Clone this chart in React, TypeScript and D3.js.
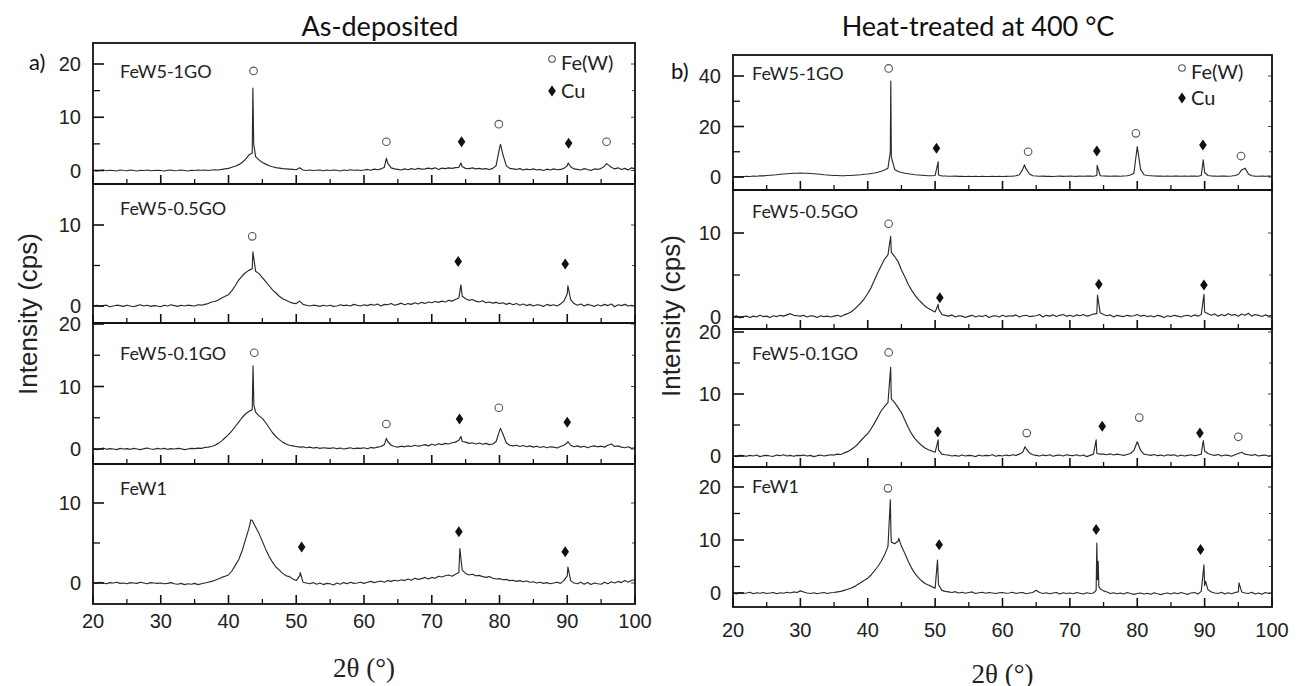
import React from 'react';
import * as d3 from 'd3';

type Pt = [number, number];

// 2θ sampling grid of the digitised patterns (20° … 100°, 0.5° steps)
const twoTheta: number[] = d3.range(0, 161).map((i) => 20 + i * 0.5);

const xMajorTicks = [20, 30, 40, 50, 60, 70, 80, 90, 100];
const xMinorTicks = [25, 35, 45, 55, 65, 75, 85, 95];

// ---------- As-deposited ----------
const ad1GO = [
  0.1, -0.1, 0.0, 0.1, -0.05, 0.05, 0.0, -0.1, 0.1, 0.0,
  -0.05, 0.1, 0.0, -0.1, 0.05, 0.0, 0.1, -0.05, 0.0, 0.05,
  0.0, -0.1, 0.05, 0.1, -0.05, 0.0, 0.1, 0.0, -0.1, 0.05,
  0.0, 0.1, 0.05, 0.1, 0.0, 0.1, 0.15, 0.1, 0.2, 0.3,
  0.4, 0.6, 0.8, 1.1, 1.5, 2.1, 2.9, 3.3, 2.6, 2.0,
  1.5, 1.2, 0.9, 0.7, 0.55, 0.45, 0.35, 0.3, 0.25, 0.2,
  0.15, 0.5, 0.1, 0.0, 0.1, 0.0, 0.05, 0.1, -0.05, 0.1,
  0.0, 0.1, 0.05, -0.1, 0.1, 0.0, 0.15, 0.05, 0.1, 0.0,
  0.1, 0.2, 0.05, 0.25, 0.15, 0.3, 0.6, 1.4, 0.5, 0.3,
  0.2, 0.1, 0.3, 0.15, 0.35, 0.2, 0.4, 0.25, 0.3, 0.45,
  0.3, 0.5, 0.2, 0.45, 0.35, 0.5, 0.4, 0.55, 0.6, 0.7,
  0.4, 0.35, 0.5, 0.3, 0.4, 0.25, 0.35, 0.2, 0.4, 0.9,
  4.2, 3.0, 0.9, 0.4, 0.3, 0.2, 0.35, 0.1, 0.25, 0.15,
  0.3, 0.1, 0.2, 0.0, 0.25, 0.1, 0.3, 0.15, 0.2, 0.4,
  0.9, 0.7, 0.3, 0.2, 0.1, 0.35, 0.2, 0.0, 0.3, 0.2,
  0.4, 0.8, 1.1, 0.6, 0.3, 0.5, 0.2, 0.4, 0.1, 0.5,
  0.3,
];
const ad1GOPeaks: Pt[] = [[43.6, 15.5], [43.72, 5.0], [63.3, 2.3], [74.3, 1.4], [80.15, 4.9], [90.15, 1.4], [95.8, 1.3]];
const ad1GOFe: Pt[] = [[43.7, 18.7], [63.3, 5.4], [79.9, 8.7], [95.8, 5.4]];
const ad1GOCu: Pt[] = [[74.4, 5.4], [90.2, 5.1]];

const ad05GO = [
  0.0, 0.1, -0.05, 0.05, 0.1, -0.1, 0.0, 0.1, 0.05, -0.05,
  0.1, 0.0, -0.1, 0.05, 0.15, 0.0, 0.1, -0.05, 0.05, 0.0,
  -0.1, 0.1, 0.0, 0.15, 0.05, -0.05, 0.1, 0.0, 0.1, 0.05,
  0.0, 0.15, 0.1, 0.2, 0.3, 0.5, 0.55, 0.75, 1.0, 1.2,
  1.4, 1.9, 2.5, 3.2, 3.7, 4.1, 4.4, 4.6, 4.3, 4.0,
  3.5, 3.0, 2.5, 2.0, 1.6, 1.2, 0.9, 0.7, 0.5, 0.35,
  0.3, 0.6, 0.2, 0.1, 0.0, 0.1, 0.05, -0.05, 0.1, 0.0,
  0.1, -0.05, 0.0, 0.15, 0.05, 0.1, 0.0, 0.2, 0.1, 0.0,
  0.15, 0.05, 0.2, 0.1, 0.25, 0.0, 0.2, 0.15, 0.3, 0.1,
  0.2, 0.35, 0.15, 0.3, 0.2, 0.4, 0.25, 0.45, 0.3, 0.5,
  0.4, 0.55, 0.45, 0.6, 0.5, 0.7, 0.6, 0.8, 1.0, 1.2,
  0.9, 0.7, 0.8, 0.6, 0.5, 0.65, 0.4, 0.5, 0.35, 0.45,
  0.3, 0.4, 0.2, 0.35, 0.15, 0.3, 0.1, 0.25, 0.05, 0.2,
  0.0, 0.15, 0.1, -0.05, 0.2, 0.05, 0.15, 0.0, 0.25, 0.6,
  1.5, 0.8, 0.3, 0.1, 0.25, 0.0, 0.2, 0.1, -0.05, 0.15,
  0.0, 0.2, 0.05, 0.25, -0.1, 0.15, 0.05, 0.2, 0.0, 0.1,
  0.0,
];
const ad05GOPeaks: Pt[] = [[43.6, 6.7], [74.3, 2.6], [90.1, 2.5]];
const ad05GOFe: Pt[] = [[43.5, 8.6]];
const ad05GOCu: Pt[] = [[73.9, 5.5], [89.7, 5.2]];

const ad01GO = [
  0.1, -0.1, 0.0, 0.15, -0.05, 0.05, 0.0, -0.1, 0.1, 0.0,
  0.05, -0.05, 0.1, 0.0, -0.1, 0.05, 0.15, 0.0, -0.05, 0.1,
  0.0, 0.1, -0.05, 0.05, 0.0, 0.1, 0.05, -0.1, 0.0, 0.1,
  0.05, 0.15, 0.1, 0.25, 0.3, 0.4, 0.6, 0.9, 1.3, 1.8,
  2.3, 2.9, 3.6, 4.3, 5.0, 5.6, 6.0, 6.3, 5.9, 5.3,
  4.9, 4.2, 3.4, 2.6, 2.0, 1.5, 1.1, 0.8, 0.6, 0.5,
  0.4, 0.3, 0.35, 0.2, 0.3, 0.15, 0.25, 0.1, 0.2, 0.15,
  0.1, 0.2, 0.05, 0.15, 0.0, 0.1, 0.2, 0.05, 0.15, 0.1,
  0.2, 0.05, 0.25, 0.15, 0.3, 0.4, 0.7, 1.2, 0.6, 0.4,
  0.3, 0.45, 0.35, 0.5, 0.4, 0.6, 0.45, 0.55, 0.7, 0.5,
  0.75, 0.6, 0.85, 0.7, 0.9, 0.8, 1.0, 1.1, 1.4, 1.2,
  1.1, 0.9, 1.0, 0.8, 0.95, 0.75, 0.9, 0.7, 0.8, 1.2,
  2.9, 2.4, 1.0, 0.6, 0.5, 0.6, 0.4, 0.55, 0.35, 0.5,
  0.3, 0.45, 0.25, 0.4, 0.2, 0.35, 0.3, 0.15, 0.4, 0.6,
  1.0, 0.6, 0.35, 0.5, 0.3, 0.45, 0.2, 0.4, 0.5, 0.35,
  0.45, 0.3, 0.6, 0.8, 0.4, 0.5, 0.3, 0.2, 0.35, 0.1,
  0.2,
];
const ad01GOPeaks: Pt[] = [[43.62, 13.3], [43.75, 7.0], [63.3, 1.7], [74.3, 2.0], [80.15, 3.3], [90.1, 1.2]];
const ad01GOFe: Pt[] = [[43.8, 15.4], [63.3, 4.0], [79.9, 6.6]];
const ad01GOCu: Pt[] = [[74.1, 4.8], [90.0, 4.3]];

const adFeW1 = [
  0.05, -0.05, 0.1, 0.0, -0.1, 0.05, 0.0, 0.1, -0.05, 0.0,
  -0.1, 0.05, 0.0, -0.05, 0.1, 0.0, -0.1, 0.05, 0.0, -0.05,
  0.0, -0.1, -0.05, 0.05, -0.1, -0.15, -0.05, -0.2, -0.1, -0.15,
  -0.05, -0.2, -0.1, 0.0, 0.1, 0.2, 0.35, 0.5, 0.7, 0.85,
  1.0, 1.5, 2.2, 2.9, 4.0, 5.4, 6.8, 7.8, 7.0, 6.2,
  5.2, 4.2, 3.3, 2.6, 2.0, 1.6, 1.2, 0.9, 0.8, 0.5,
  0.3, 0.9, 0.1, 0.0, -0.1, 0.05, -0.15, 0.0, -0.2, -0.05,
  -0.1, -0.25, 0.0, -0.15, 0.05, -0.1, 0.1, -0.05, 0.0, 0.1,
  -0.05, 0.1, 0.2, 0.05, 0.15, 0.25, 0.1, 0.3, 0.2, 0.35,
  0.25, 0.4, 0.3, 0.5, 0.35, 0.6, 0.45, 0.55, 0.7, 0.5,
  0.7, 0.6, 0.85, 0.75, 0.9, 1.0, 0.85, 1.1, 1.3, 1.6,
  1.2, 1.0, 1.1, 0.9, 0.95, 0.8, 0.7, 0.8, 0.6, 0.5,
  0.55, 0.4, 0.45, 0.3, 0.35, 0.2, 0.3, 0.15, 0.25, 0.1,
  0.15, 0.0, 0.1, -0.05, 0.05, -0.1, 0.0, 0.1, -0.05, 0.3,
  0.9, 0.3, 0.0, -0.1, 0.1, -0.15, 0.05, -0.2, 0.0, -0.1,
  -0.15, 0.1, -0.1, 0.15, 0.0, 0.2, 0.05, 0.3, 0.1, 0.35,
  0.4,
];
const adFeW1Peaks: Pt[] = [[43.3, 7.9], [50.6, 1.3], [74.15, 4.3], [90.1, 2.0]];
const adFeW1Fe: Pt[] = [];
const adFeW1Cu: Pt[] = [[50.8, 4.5], [74.0, 6.4], [89.7, 3.9]];

// ---------- Heat-treated at 400 °C ----------
const ht1GO = [
  0.0, 0.1, 0.2, 0.1, 0.3, 0.2, 0.4, 0.3, 0.5, 0.45,
  0.6, 0.7, 0.8, 0.9, 1.1, 1.2, 1.3, 1.4, 1.5, 1.5,
  1.6, 1.5, 1.5, 1.4, 1.3, 1.2, 1.1, 0.9, 0.8, 0.7,
  0.6, 0.6, 0.5, 0.5, 0.6, 0.6, 0.7, 0.8, 0.9, 1.1,
  1.2, 1.4, 1.6, 1.9, 2.3, 2.8, 3.5, 8.0, 3.0, 2.2,
  1.8, 1.5, 1.3, 1.1, 0.9, 0.8, 0.7, 0.6, 0.5, 0.5,
  0.6, 0.8, 0.4, 0.4, 0.3, 0.3, 0.35, 0.25, 0.3, 0.2,
  0.3, 0.2, 0.25, 0.2, 0.3, 0.2, 0.2, 0.25, 0.2, 0.3,
  0.2, 0.25, 0.3, 0.35, 0.5, 0.9, 3.0, 3.2, 1.2, 0.5,
  0.4, 0.3, 0.35, 0.25, 0.3, 0.2, 0.3, 0.35, 0.25, 0.3,
  0.35, 0.3, 0.25, 0.4, 0.3, 0.35, 0.4, 0.3, 0.6, 0.5,
  0.4, 0.35, 0.3, 0.4, 0.35, 0.3, 0.4, 0.5, 0.8, 1.5,
  12.0, 3.0, 0.9, 0.6, 0.5, 0.4, 0.35, 0.4, 0.3, 0.35,
  0.3, 0.4, 0.35, 0.3, 0.4, 0.3, 0.35, 0.4, 0.3, 0.6,
  1.8, 0.6, 0.4, 0.35, 0.3, 0.4, 0.35, 0.3, 0.4, 0.6,
  1.0, 2.8, 3.5, 1.2, 0.5, 0.35, 0.3, 0.4, 0.3, 0.35,
  0.3,
];
const ht1GOPeaks: Pt[] = [[43.35, 10.0], [43.42, 38.0], [50.45, 6.0], [63.25, 4.8], [74.05, 4.6], [89.8, 6.8]];
const ht1GOFe: Pt[] = [[43.1, 43.0], [63.8, 10.0], [79.8, 17.3], [95.4, 8.3]];
const ht1GOCu: Pt[] = [[50.2, 11.4], [74.0, 10.3], [89.75, 12.7]];

const ht05GO = [
  0.0, 0.15, -0.1, 0.05, 0.1, -0.05, 0.1, 0.0, 0.2, 0.05,
  0.1, -0.05, 0.15, 0.05, 0.2, 0.1, 0.25, 0.4, 0.2, 0.15,
  0.1, 0.2, 0.0, 0.15, 0.1, -0.05, 0.15, 0.05, 0.1, 0.0,
  0.1, 0.2, 0.05, 0.25, 0.4, 0.6, 0.9, 1.3, 1.7, 2.2,
  2.8, 3.5, 4.4, 5.3, 6.1, 6.9, 7.4, 7.7, 7.2, 6.6,
  5.6, 4.8, 3.9, 3.2, 2.6, 2.1, 1.7, 1.3, 1.0, 0.8,
  0.6, 1.0, 0.3, 0.2, 0.1, 0.25, 0.0, 0.15, 0.1, -0.05,
  0.1, 0.2, 0.0, 0.15, 0.05, 0.2, -0.05, 0.1, 0.15, 0.0,
  0.2, 0.05, 0.15, 0.1, 0.25, 0.0, 0.15, 0.2, 0.05, 0.1,
  0.15, 0.3, 0.0, 0.2, 0.1, 0.25, 0.05, 0.2, 0.3, 0.1,
  0.2, 0.05, 0.25, 0.15, 0.3, 0.1, 0.2, 0.35, 0.4, 0.5,
  0.3, 0.15, 0.25, 0.0, 0.2, 0.1, 0.05, 0.2, 0.1, 0.15,
  0.3, 0.1, 0.2, 0.05, 0.15, 0.0, 0.2, 0.1, -0.05, 0.15,
  0.05, 0.2, 0.1, 0.0, 0.15, 0.2, 0.05, 0.25, 0.1, 0.3,
  0.6, 0.4, 0.2, 0.35, 0.1, 0.3, 0.15, 0.4, 0.2, 0.3,
  0.1, 0.35, 0.2, 0.45, 0.1, 0.3, 0.2, 0.05, 0.25, 0.1,
  0.2,
];
const ht05GOPeaks: Pt[] = [[43.4, 9.6], [50.45, 1.5], [74.1, 2.6], [89.9, 2.7]];
const ht05GOFe: Pt[] = [[43.1, 11.1]];
const ht05GOCu: Pt[] = [[50.7, 2.3], [74.3, 3.9], [89.9, 3.8]];

const ht01GO = [
  0.0, -0.1, 0.1, 0.05, -0.05, 0.1, 0.0, 0.15, -0.1, 0.05,
  0.1, 0.0, -0.05, 0.15, 0.05, 0.2, 0.0, 0.1, -0.05, 0.1,
  0.05, 0.15, 0.0, 0.1, -0.1, 0.05, 0.15, 0.0, 0.1, 0.2,
  0.15, 0.3, 0.25, 0.5, 0.7, 1.0, 1.4, 1.9, 2.5, 3.1,
  3.6, 4.4, 5.3, 6.3, 7.3, 8.0, 8.6, 9.2, 8.6, 7.8,
  7.0, 5.8, 4.6, 3.6, 2.8, 2.2, 1.7, 1.3, 1.0, 0.8,
  0.6, 1.0, 0.3, 0.2, 0.15, 0.0, 0.1, -0.05, 0.15, 0.0,
  0.1, 0.05, -0.1, 0.15, 0.0, 0.1, 0.05, 0.2, -0.05, 0.1,
  0.0, 0.15, 0.05, 0.2, 0.1, 0.3, 0.6, 1.2, 0.5, 0.2,
  0.1, 0.0, 0.15, 0.05, 0.2, -0.05, 0.1, 0.15, 0.0, 0.2,
  0.1, 0.05, 0.2, 0.0, 0.15, -0.1, 0.1, 0.3, 0.4, 0.3,
  0.3, 0.2, 0.35, 0.15, 0.3, 0.2, 0.1, 0.25, 0.4, 0.9,
  2.3, 0.9, 0.3, 0.2, 0.1, 0.25, 0.05, 0.15, 0.0, 0.2,
  0.1, 0.2, -0.05, 0.15, 0.0, 0.1, 0.2, 0.05, 0.15, 0.3,
  0.8, 0.4, 0.2, 0.1, 0.25, 0.0, 0.15, 0.1, -0.05, 0.2,
  0.4, 0.6, 0.3, 0.2, 0.1, 0.25, 0.0, 0.1, 0.15, -0.05,
  0.1,
];
const ht01GOPeaks: Pt[] = [[43.4, 14.3], [50.45, 2.6], [63.35, 1.5], [73.9, 2.6], [89.8, 2.5]];
const ht01GOFe: Pt[] = [[43.1, 16.7], [63.6, 3.7], [80.3, 6.2], [95.0, 3.1]];
const ht01GOCu: Pt[] = [[50.4, 3.9], [74.8, 4.8], [89.3, 3.7]];

const htFeW1 = [
  0.0, -0.2, 0.1, -0.1, 0.0, 0.15, -0.15, 0.05, -0.05, 0.1,
  -0.1, 0.0, 0.1, -0.15, 0.05, -0.05, 0.15, 0.0, 0.2, 0.1,
  0.4, 0.2, 0.0, -0.1, 0.05, -0.15, 0.0, 0.1, -0.1, 0.05,
  0.1, 0.2, 0.3, 0.5, 0.7, 0.9, 1.2, 1.6, 2.0, 2.4,
  2.8, 3.4, 4.2, 5.0, 6.0, 7.2, 8.8, 9.6, 9.3, 9.8,
  8.8, 7.5, 6.0, 4.7, 3.7, 2.9, 2.3, 1.8, 1.5, 1.2,
  0.9, 1.6, 0.5, 0.3, 0.2, 0.1, 0.25, 0.0, 0.15, -0.05,
  0.1, 0.2, -0.1, 0.05, 0.15, -0.05, 0.1, 0.0, -0.1, 0.05,
  0.1, -0.05, 0.0, 0.15, -0.1, 0.05, 0.1, -0.15, 0.0, 0.1,
  0.5, 0.1, -0.1, 0.05, -0.15, 0.0, 0.1, -0.2, 0.05, -0.1,
  0.0, -0.15, 0.1, -0.05, -0.2, 0.05, -0.1, 0.0, 9.4, 0.8,
  0.4, 0.2, -0.1, 0.05, -0.15, 0.0, -0.2, 0.1, -0.1, -0.25,
  -0.1, 0.0, -0.2, -0.05, -0.25, 0.05, -0.15, -0.3, -0.1, 0.0,
  -0.2, 0.05, -0.15, 0.1, -0.1, -0.25, 0.0, 0.1, -0.2, 0.3,
  1.4, 0.6, 0.2, 0.0, -0.1, 0.15, -0.2, 0.05, -0.15, 0.1,
  0.2, 0.2, 0.0, -0.1, 0.15, -0.2, 0.0, -0.25, 0.1, -0.1,
  0.0,
];
const htFeW1Peaks: Pt[] = [[43.35, 17.6], [43.45, 11.0], [44.6, 10.3], [50.35, 6.2], [73.9, 0.5], [74.1, 2.5], [74.2, 6.0], [74.3, 1.2], [89.9, 5.3], [90.15, 2.2], [95.1, 1.9]];
const htFeW1Fe: Pt[] = [[43.0, 19.75]];
const htFeW1Cu: Pt[] = [[50.6, 9.1], [73.9, 12.0], [89.4, 8.2]];

const panelLabels = ['FeW5-1GO', 'FeW5-0.5GO', 'FeW5-0.1GO', 'FeW1'];
const columnTitles = ['As-deposited', 'Heat-treated at 400 °C'];
const columnTags = ['a)', 'b)'];
const legendLabels = ['Fe(W)', 'Cu'];

const series = [
  [
    { values: ad1GO, peaks: ad1GOPeaks, fe: ad1GOFe, cu: ad1GOCu, major: [0, 10, 20], minor: [5, 15] },
    { values: ad05GO, peaks: ad05GOPeaks, fe: ad05GOFe, cu: ad05GOCu, major: [0, 10], minor: [5] },
    { values: ad01GO, peaks: ad01GOPeaks, fe: ad01GOFe, cu: ad01GOCu, major: [0, 10, 20], minor: [5, 15] },
    { values: adFeW1, peaks: adFeW1Peaks, fe: adFeW1Fe, cu: adFeW1Cu, major: [0, 10], minor: [5] },
  ],
  [
    { values: ht1GO, peaks: ht1GOPeaks, fe: ht1GOFe, cu: ht1GOCu, major: [0, 20, 40], minor: [10, 30] },
    { values: ht05GO, peaks: ht05GOPeaks, fe: ht05GOFe, cu: ht05GOCu, major: [0, 10], minor: [5] },
    { values: ht01GO, peaks: ht01GOPeaks, fe: ht01GOFe, cu: ht01GOCu, major: [0, 10, 20], minor: [5, 15] },
    { values: htFeW1, peaks: htFeW1Peaks, fe: htFeW1Fe, cu: htFeW1Cu, major: [0, 10, 20], minor: [5, 15] },
  ],
];

// ---------- layout (pixels) ----------
const columns = [
  {
    x0: 93, x1: 635, titleX: 380, tagX: 29, tagY: 70, xLabelY: 628, xTitleY: 677, yTitleX: 37, yTitleY: 314,
    legendX: 552, legendY: [70, 98], labelX: 120,
    rows: [
      { top: 43, bottom: 184, ref: [[0, 170.5], [20, 64]], labelY: 78 },
      { top: 184, bottom: 323, ref: [[0, 306], [10, 225]], labelY: 215 },
      { top: 323, bottom: 464, ref: [[0, 449], [20, 324]], labelY: 360 },
      { top: 464, bottom: 604, ref: [[0, 583], [10, 503]], labelY: 495 },
    ],
  },
  {
    x0: 733, x1: 1272, titleX: 978, tagX: 671, tagY: 79, xLabelY: 637, xTitleY: 683, yTitleX: 680, yTitleY: 316,
    legendX: 1182, legendY: [79, 105], labelX: 752,
    rows: [
      { top: 55, bottom: 190, ref: [[0, 177], [40, 76]], labelY: 80 },
      { top: 190, bottom: 329, ref: [[0, 317], [10, 233]], labelY: 218 },
      { top: 329, bottom: 467, ref: [[0, 456], [20, 332]], labelY: 360 },
      { top: 467, bottom: 607, ref: [[0, 593], [20, 487]], labelY: 493 },
    ],
  },
];

const tickFont = '"Liberation Sans", Arial, sans-serif';
const labelFont = 'Lato, "Noto Sans", sans-serif';

function diamondPath(cx: number, cy: number) {
  return `M${cx},${cy - 5.5}L${cx + 3.8},${cy}L${cx},${cy + 5.5}L${cx - 3.8},${cy}Z`;
}

export default function App() {
  return (
    <svg width={1304} height={686} style={{ position: 'absolute', left: 0, top: 0, background: '#fff' }}>
      <rect x={0} y={0} width={1304} height={686} fill="#fff" />
      {columns.map((col, ci) => {
        const xs = d3.scaleLinear().domain([20, 100]).range([col.x0, col.x1]);
        return (
          <g key={ci}>
            <text x={col.titleX} y={36} textAnchor="middle" fontFamily={labelFont} fontSize={27} fill="#111">
              {columnTitles[ci]}
            </text>
            <text x={col.tagX} y={col.tagY} fontFamily={labelFont} fontSize={22} fill="#111">
              {columnTags[ci]}
            </text>
            <text
              transform={`translate(${col.yTitleX},${col.yTitleY}) rotate(-90)`}
              textAnchor="middle"
              fontFamily={tickFont}
              fontSize={26}
              fill="#222"
            >
              Intensity (cps)
            </text>
            <text x={(col.x0 + col.x1) / 2} y={col.xTitleY} textAnchor="middle" fontFamily='"Liberation Serif", "DejaVu Serif", serif' fontSize={27} fill="#222">
              2θ (°)
            </text>
            {col.rows.map((row, ri) => {
              const s = series[ci][ri];
              const ys = d3
                .scaleLinear()
                .domain([row.ref[0][0], row.ref[1][0]])
                .range([row.ref[0][1], row.ref[1][1]]);
              const pts: Pt[] = twoTheta
                .map((t, i) => [t, s.values[i]] as Pt)
                .concat(s.peaks)
                .sort((a, b) => a[0] - b[0]);
              const line = d3
                .line<Pt>()
                .x((d) => xs(d[0]))
                .y((d) => ys(d[1]));
              const clipId = `clip-${ci}-${ri}`;
              return (
                <g key={ri}>
                  <defs>
                    <clipPath id={clipId}>
                      <rect x={col.x0} y={row.top} width={col.x1 - col.x0} height={row.bottom - row.top} />
                    </clipPath>
                  </defs>
                  <path d={line(pts) || ''} fill="none" stroke="#2a2a2a" strokeWidth={1.15} strokeLinejoin="round" clipPath={`url(#${clipId})`} />
                  {xMajorTicks.map((t) => (
                    <line key={'xM' + t} x1={xs(t)} x2={xs(t)} y1={row.bottom} y2={row.bottom - 9} stroke="#111" strokeWidth={1.6} />
                  ))}
                  {xMinorTicks.map((t) => (
                    <line key={'xm' + t} x1={xs(t)} x2={xs(t)} y1={row.bottom} y2={row.bottom - 5} stroke="#111" strokeWidth={1.3} />
                  ))}
                  {s.major.map((t) => (
                    <g key={'yM' + t}>
                      <line x1={col.x0} x2={col.x0 + 11} y1={ys(t)} y2={ys(t)} stroke="#111" strokeWidth={1.6} />
                      <line x1={col.x1} x2={col.x1 - 4} y1={ys(t)} y2={ys(t)} stroke="#444" strokeWidth={1} />
                      <text x={col.x0 - 12} y={ys(t)} dy="0.36em" textAnchor="end" fontFamily={tickFont} fontSize={20} fill="#222">
                        {t}
                      </text>
                    </g>
                  ))}
                  {s.minor.map((t) => (
                    <g key={'ym' + t}>
                      <line x1={col.x0} x2={col.x0 + 7} y1={ys(t)} y2={ys(t)} stroke="#111" strokeWidth={1.3} />
                      <line x1={col.x1} x2={col.x1 - 3} y1={ys(t)} y2={ys(t)} stroke="#444" strokeWidth={1} />
                    </g>
                  ))}
                  {s.fe.map((p, k) => (
                    <circle key={'fe' + k} cx={xs(p[0])} cy={ys(p[1])} r={3.8} fill="#fff" stroke="#555" strokeWidth={1.1} />
                  ))}
                  {s.cu.map((p, k) => (
                    <path key={'cu' + k} d={diamondPath(xs(p[0]), ys(p[1]))} fill="#111" />
                  ))}
                  <text x={col.labelX} y={row.labelY} fontFamily={labelFont} fontSize={18} fill="#222">
                    {panelLabels[ri]}
                  </text>
                  <rect x={col.x0} y={row.top} width={col.x1 - col.x0} height={row.bottom - row.top} fill="none" stroke="#111" strokeWidth={1.8} />
                </g>
              );
            })}
            {xMajorTicks.map((t) => (
              <text key={'xl' + t} x={xs(t)} y={col.xLabelY} textAnchor="middle" fontFamily={tickFont} fontSize={20} fill="#222">
                {t}
              </text>
            ))}
            <circle cx={col.legendX} cy={col.legendY[0] - 11} r={3.3} fill="#fff" stroke="#555" strokeWidth={1.1} />
            <text x={col.legendX + 9} y={col.legendY[0]} fontFamily={labelFont} fontSize={20} fill="#222">
              {legendLabels[0]}
            </text>
            <path d={diamondPath(col.legendX, col.legendY[1] - 7)} fill="#111" />
            <text x={col.legendX + 9} y={col.legendY[1]} fontFamily={labelFont} fontSize={20} fill="#222">
              {legendLabels[1]}
            </text>
          </g>
        );
      })}
    </svg>
  );
}
